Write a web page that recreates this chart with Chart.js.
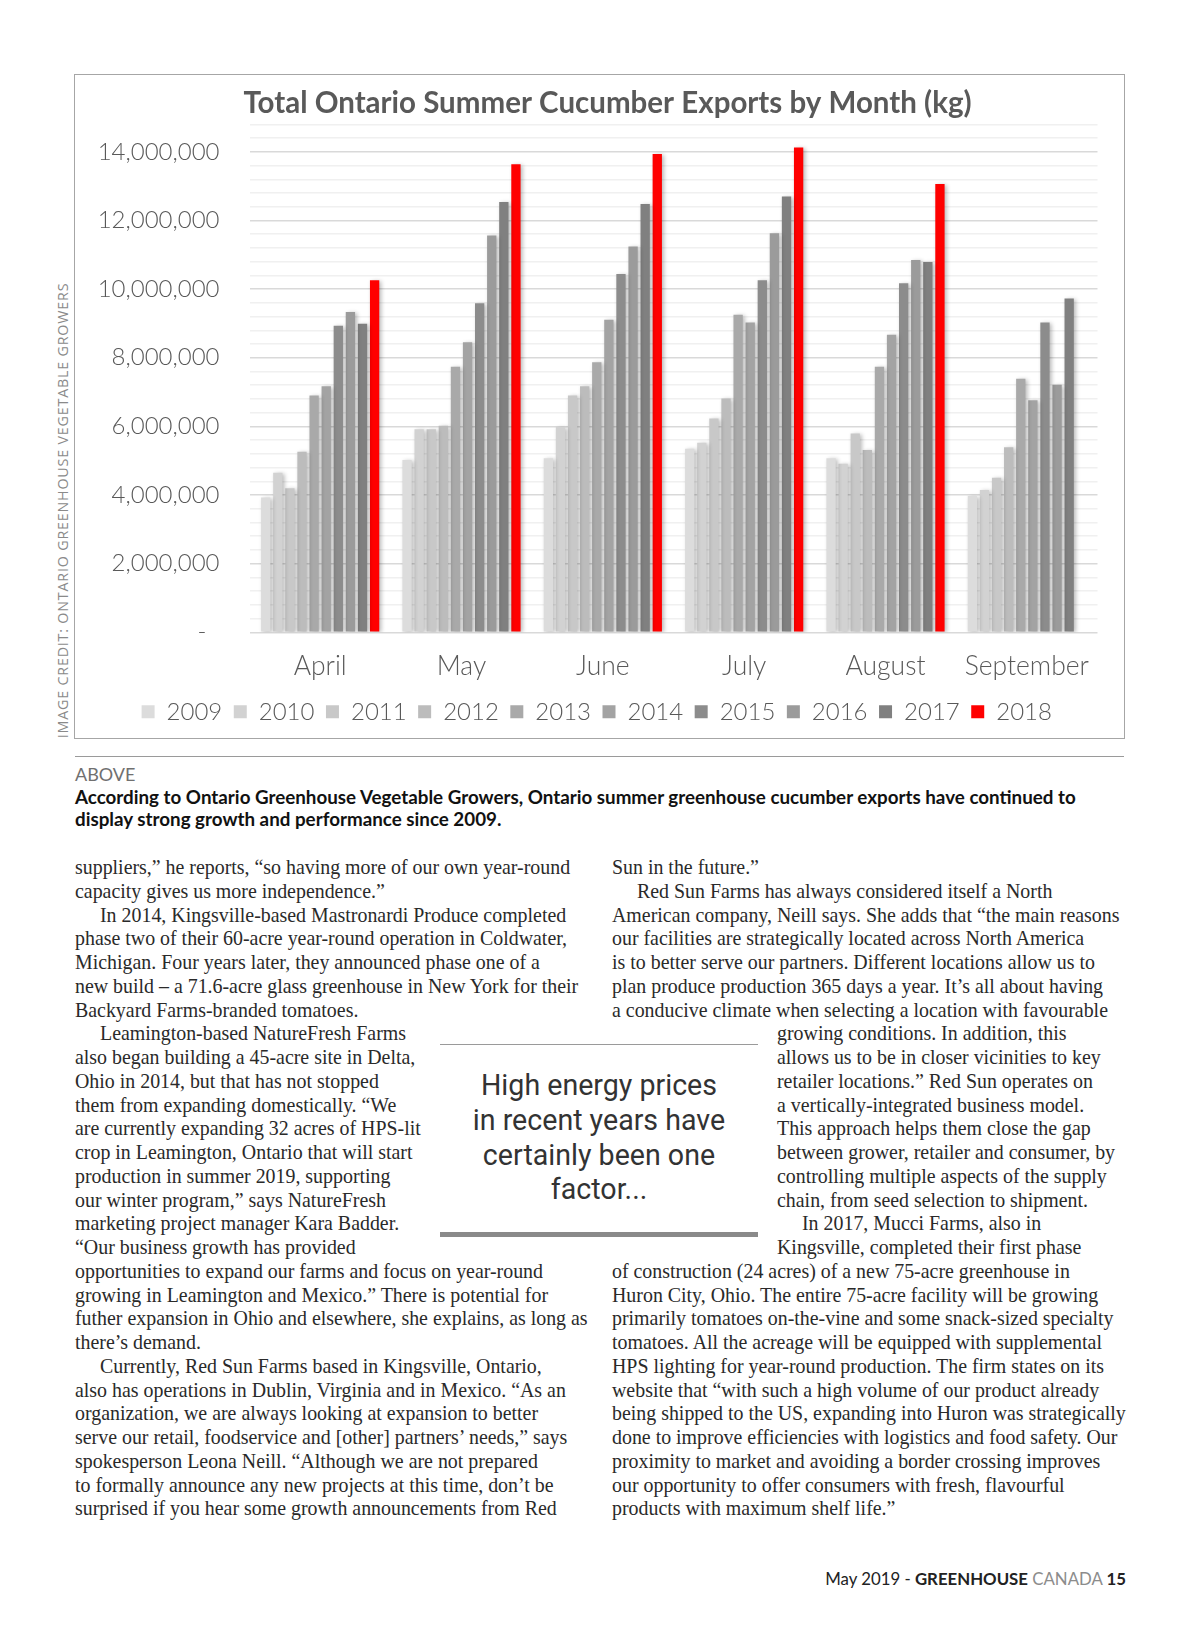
<!DOCTYPE html>
<html>
<head>
<meta charset="utf-8">
<script src="https://cdn.jsdelivr.net/npm/chart.js@4.4.1/dist/chart.umd.min.js"></script>
<style>
  html, body { margin: 0; padding: 0; background: #fff; }
  body { width: 1200px; height: 1631px; position: relative; overflow: hidden; }
  .chart-box { position: absolute; left: 74px; top: 74px; width: 1051px; height: 665px;
               border: 1.5px solid #a6a6a6; box-sizing: border-box; }
  .chart-wrap { position: absolute; left: 0.5px; top: 0.5px; width: 1047px; height: 661px; }
  .credit { position: absolute; left: -168px; top: 501px; width: 460px; text-align: center;
            font: 14.3px 'Open Sans', sans-serif; letter-spacing: 0.8px; color: #8a8a8a;
            transform: rotate(-90deg); transform-origin: 50% 50%; white-space: nowrap; }
  .rule { position: absolute; left: 75px; top: 756px; width: 1049px; height: 0; border-top: 1.5px solid #9a9a9a; }
  .above { position: absolute; left: 75px; top: 763px; font: 18px 'Lato', sans-serif; color: #707070; }
  .caption { position: absolute; left: 75px; top: 786px; width: 1100px; font: bold 18.8px/22px 'Lato', sans-serif; color: #111; }
  .col { position: absolute; top: 856px; font: 19.9px/23.76px 'Liberation Serif', serif; color: #2a2a2a; white-space: nowrap; }
  .col div { height: 23.76px; }
  .col .ind { padding-left: 25px; }
  .col .wrap { padding-left: 165px; }
  .col .wrap.ind { padding-left: 190px; }
  .quote-top { position: absolute; left: 440px; top: 1044px; width: 318px; border-top: 1px solid #9a9a9a; }
  .quote-bot { position: absolute; left: 440px; top: 1232px; width: 318px; border-top: 5px solid #8a8a8a; }
  .quote { position: absolute; left: 430px; top: 1068px; width: 338px; text-align: center;
           font: 28.6px/34.8px 'Roboto', sans-serif; color: #333; }
  .footer { position: absolute; right: 74px; top: 1568px; font: 16.8px 'Lato', sans-serif; color: #222; white-space: nowrap; }
  .footer b { font-weight: bold; }
  .footer .grey { color: #8c8c8c; }
</style>
</head>
<body>

<div class="chart-box">
  <div class="chart-wrap"><canvas id="cucumberChart"></canvas></div>
</div>
<div class="credit">IMAGE CREDIT: ONTARIO GREENHOUSE VEGETABLE GROWERS</div>

<div class="rule"></div>
<div class="above">ABOVE</div>
<div class="caption">According to Ontario Greenhouse Vegetable Growers, Ontario summer greenhouse cucumber exports have continued to<br>display strong growth and performance since 2009.</div>

<div class="col" style="left:75px">
  <div>suppliers,” he reports, “so having more of our own year-round</div>
  <div>capacity gives us more independence.”</div>
  <div class="ind">In 2014, Kingsville-based Mastronardi Produce completed</div>
  <div>phase two of their 60-acre year-round operation in Coldwater,</div>
  <div>Michigan. Four years later, they announced phase one of a</div>
  <div>new build – a 71.6-acre glass greenhouse in New York for their</div>
  <div>Backyard Farms-branded tomatoes.</div>
  <div class="ind">Leamington-based NatureFresh Farms</div>
  <div>also began building a 45-acre site in Delta,</div>
  <div>Ohio in 2014, but that has not stopped</div>
  <div>them from expanding domestically. “We</div>
  <div>are currently expanding 32 acres of HPS-lit</div>
  <div>crop in Leamington, Ontario that will start</div>
  <div>production in summer 2019, supporting</div>
  <div>our winter program,” says NatureFresh</div>
  <div>marketing project manager Kara Badder.</div>
  <div>“Our business growth has provided</div>
  <div>opportunities to expand our farms and focus on year-round</div>
  <div>growing in Leamington and Mexico.” There is potential for</div>
  <div>futher expansion in Ohio and elsewhere, she explains, as long as</div>
  <div>there’s demand.</div>
  <div class="ind">Currently, Red Sun Farms based in Kingsville, Ontario,</div>
  <div>also has operations in Dublin, Virginia and in Mexico. “As an</div>
  <div>organization, we are always looking at expansion to better</div>
  <div>serve our retail, foodservice and [other] partners’ needs,” says</div>
  <div>spokesperson Leona Neill. “Although we are not prepared</div>
  <div>to formally announce any new projects at this time, don’t be</div>
  <div>surprised if you hear some growth announcements from Red</div>
</div>

<div class="col" style="left:612px">
  <div>Sun in the future.”</div>
  <div class="ind">Red Sun Farms has always considered itself a North</div>
  <div>American company, Neill says. She adds that “the main reasons</div>
  <div>our facilities are strategically located across North America</div>
  <div>is to better serve our partners. Different locations allow us to</div>
  <div>plan produce production 365 days a year. It’s all about having</div>
  <div>a conducive climate when selecting a location with favourable</div>
  <div class="wrap">growing conditions. In addition, this</div>
  <div class="wrap">allows us to be in closer vicinities to key</div>
  <div class="wrap">retailer locations.” Red Sun operates on</div>
  <div class="wrap">a vertically-integrated business model.</div>
  <div class="wrap">This approach helps them close the gap</div>
  <div class="wrap">between grower, retailer and consumer, by</div>
  <div class="wrap">controlling multiple aspects of the supply</div>
  <div class="wrap">chain, from seed selection to shipment.</div>
  <div class="wrap ind">In 2017, Mucci Farms, also in</div>
  <div class="wrap">Kingsville, completed their first phase</div>
  <div>of construction (24 acres) of a new 75-acre greenhouse in</div>
  <div>Huron City, Ohio. The entire 75-acre facility will be growing</div>
  <div>primarily tomatoes on-the-vine and some snack-sized specialty</div>
  <div>tomatoes. All the acreage will be equipped with supplemental</div>
  <div>HPS lighting for year-round production. The firm states on its</div>
  <div>website that “with such a high volume of our product already</div>
  <div>being shipped to the US, expanding into Huron was strategically</div>
  <div>done to improve efficiencies with logistics and food safety. Our</div>
  <div>proximity to market and avoiding a border crossing improves</div>
  <div>our opportunity to offer consumers with fresh, flavourful</div>
  <div>products with maximum shelf life.”</div>
</div>

<div class="quote-top"></div>
<div class="quote">High energy prices<br>in recent years have<br>certainly been one<br>factor...</div>
<div class="quote-bot"></div>

<div class="footer">May 2019 - <b>GREENHOUSE</b> <span class="grey">CANADA</span> <b>15</b></div>

<script>
// ********
// * Data *
// ********
var months = ['April', 'May', 'June', 'July', 'August', 'September'];
var years = ['2009', '2010', '2011', '2012', '2013', '2014', '2015', '2016', '2017', '2018'];

// kg exported, one value per month (Apr..Sep)
var exports2009 = [3930000, 5020000, 5070000, 5350000, 5070000, 3970000];
var exports2010 = [4650000, 5920000, 5980000, 5520000, 4910000, 4150000];
var exports2011 = [4200000, 5920000, 6900000, 6230000, 5790000, 4500000];
var exports2012 = [5260000, 6020000, 7170000, 6810000, 5310000, 5390000];
var exports2013 = [6900000, 7740000, 7870000, 9250000, 7740000, 7390000];
var exports2014 = [7170000, 8450000, 9110000, 9030000, 8670000, 6760000];
var exports2015 = [8930000, 9590000, 10440000, 10260000, 10170000, 9030000];
var exports2016 = [9330000, 11560000, 11240000, 11630000, 10850000, 7210000];
var exports2017 = [8990000, 12540000, 12480000, 12700000, 10790000, 9730000];
var exports2018 = [10260000, 13640000, 13940000, 14130000, 13060000, null];

var yearColors = ['#dcdcdc', '#d2d2d2', '#c8c8c8', '#bcbcbc', '#a9a9a9',
                  '#a3a3a3', '#8c8c8c', '#9b9b9b', '#808080', '#ff0000'];

var yMax = 14800000;
var yStep = 400000;
var yLabelStep = 2000000;

// ******************
// * Build datasets *
// ******************
var seriesByYear = [exports2009, exports2010, exports2011, exports2012, exports2013,
                    exports2014, exports2015, exports2016, exports2017, exports2018];

var datasets = years.map(function(year, i) {
    return {
        label: year,
        data: seriesByYear[i],
        backgroundColor: yearColors[i],
        borderWidth: 0,
        categoryPercentage: 0.856,
        barPercentage: 0.77
    };
});

// soft drop shadow like the original office chart
var barShadow = {
    id: 'barShadow',
    beforeDatasetsDraw: function(chart) {
        var c = chart.ctx;
        c.save();
        c.shadowColor = 'rgba(0,0,0,0.28)';
        c.shadowBlur = 4;
        c.shadowOffsetX = 2;
        c.shadowOffsetY = 1;
    },
    afterDatasetsDraw: function(chart) {
        chart.ctx.restore();
    }
};

function isMajor(v) {
    return Math.round(v) % yLabelStep === 0;
}

Chart.defaults.font.family = 'Lato';
Chart.defaults.color = '#595959';

// *********
// * Chart *
// *********
var ctx = document.getElementById('cucumberChart').getContext('2d');
var chart = new Chart(ctx, {
    type: 'bar',
    data: {
        labels: months,
        datasets: datasets
    },
    options: {
        responsive: true,
        maintainAspectRatio: false,
        animation: false,
        layout: { padding: { left: 20, right: 25.5, top: 0, bottom: 3.2 } },
        plugins: {
            title: {
                display: true,
                // leading spaces nudge the centred title right, as in the original
                text: '   Total Ontario Summer Cucumber Exports by Month (kg)',
                color: '#595959',
                font: { family: 'Lato', size: 29.5, weight: 'bold' },
                padding: { top: 10, bottom: 3 }
            },
            legend: {
                position: 'bottom',
                labels: {
                    boxWidth: 13,
                    boxHeight: 13,
                    padding: 11.5,
                    color: '#595959',
                    font: { family: 'Lato', size: 24, weight: '300' }
                }
            },
            tooltip: { enabled: false }
        },
        scales: {
            x: {
                grid: { display: false, drawTicks: false },
                border: { display: false },
                ticks: {
                    padding: 18.5,
                    color: '#595959',
                    font: { family: 'Lato', size: 26.5, weight: '300' }
                },
                afterFit: function(scale) { scale.height = 56; }
            },
            y: {
                min: 0,
                max: yMax,
                grid: {
                    drawTicks: false,
                    color: function(c) { return c.tick && isMajor(c.tick.value) ? '#d9d9d9' : '#f0f0f0'; },
                    lineWidth: 1.6
                },
                border: { display: false },
                ticks: {
                    stepSize: yStep,
                    autoSkip: false,
                    maxTicksLimit: 100,
                    padding: 30,
                    color: '#595959',
                    font: { family: 'Lato', size: 24, weight: '300' },
                    callback: function(value) {
                        if (!isMajor(value)) return '';
                        if (Math.round(value) === 0) return '-  ';
                        return Math.round(value).toLocaleString('en-US');
                    }
                },
                afterFit: function(scale) { scale.width = 153.5; }
            }
        }
    },
    plugins: [barShadow]
});
</script>
</body>
</html>
